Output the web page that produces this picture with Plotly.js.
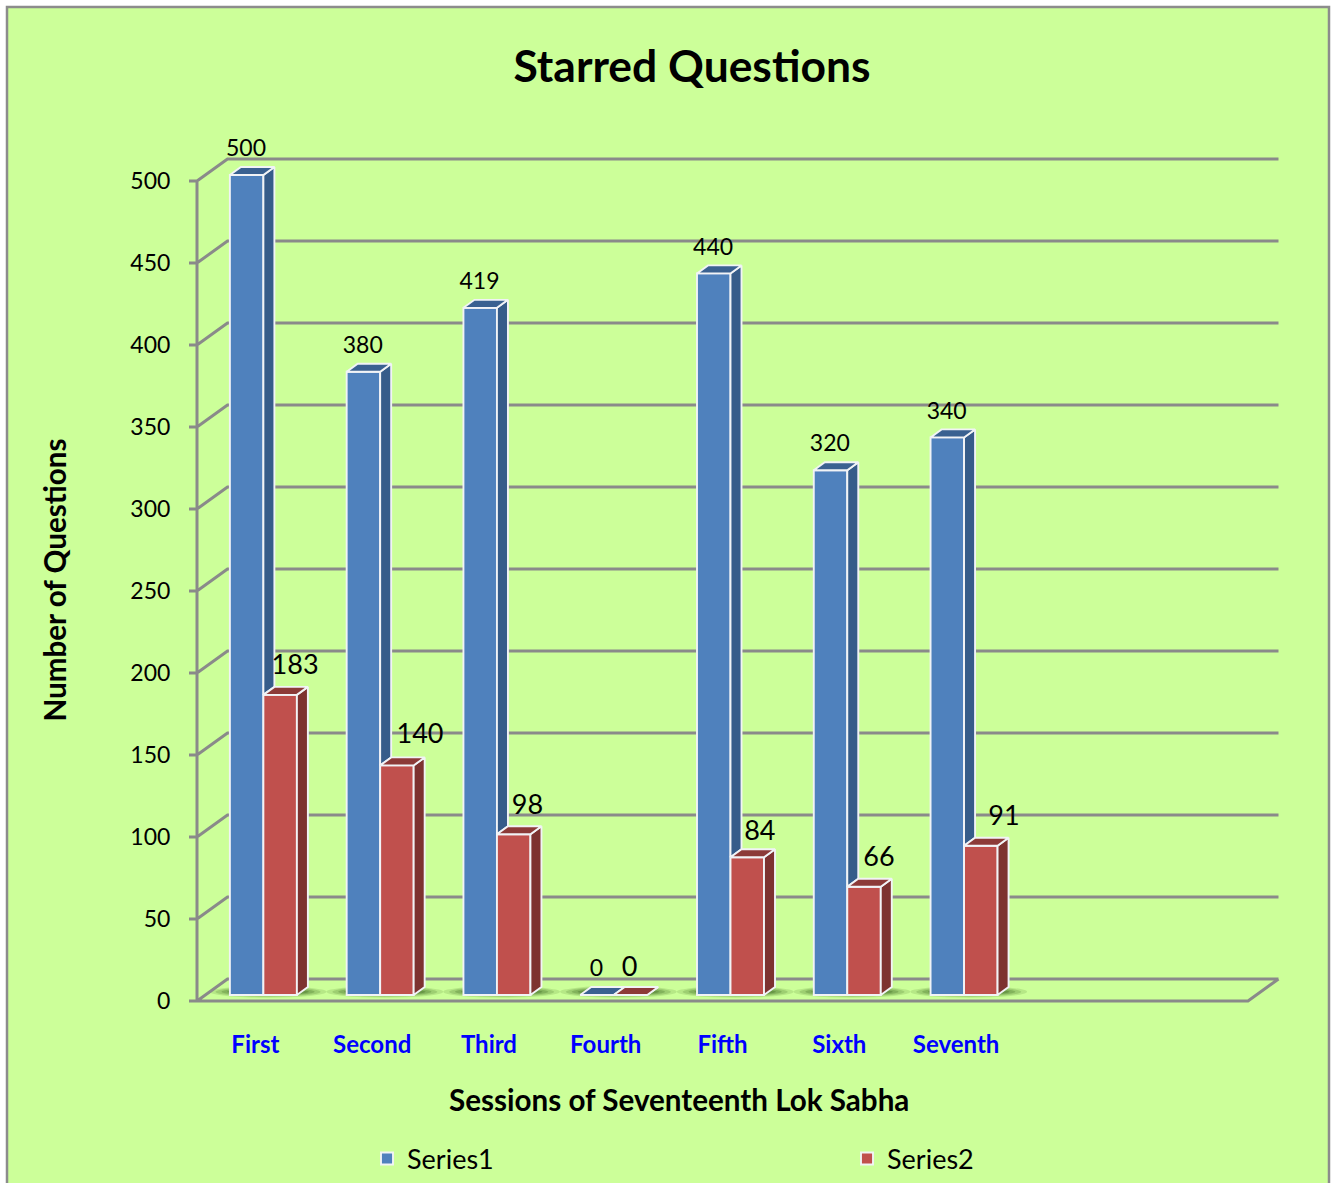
<!DOCTYPE html>
<html><head><meta charset="utf-8">
<script src="https://cdn.plot.ly/plotly-3.0.1.min.js"></script>
<style>html,body{margin:0;padding:0;background:#fff}#c{width:1336px;height:1183px}</style>
</head><body><div id="c"></div>
<script>
const categories = ["First","Second","Third","Fourth","Fifth","Sixth","Seventh"];
const series1 = [500,380,419,0,440,320,340];
const series2 = [183,140,98,0,84,66,91];
const yTicks = [0,50,100,150,200,250,300,350,400,450,500];
// hand placement of the second series' labels, relative to the category, in axis units
const s2LabelDx = [0.34,0.41,0.33,0.205,0.32,0.34,0.41];
const s2LabelDy = [17,17.5,16.5,16,14.5,16.5,16.5];

const W=1336,H=1183,L=185,R=1282,T=140,B=1020;
const X0=197,Y0=1001;
const pxX=1051/9, pxY=820/500;
const xMin=-0.5, xEnd=8.5;
const wallDx=30.5/pxX, wallDy=22/pxY;
const barW=33.5/pxX, shift=8/pxX, base=6/pxY, depX=11/pxX, depY=8/pxY;
const idx=categories.map((_,i)=>i);
const FONT='Lato, Carlito, Calibri, sans-serif';
const GRID='#8a8a8a', EDGE='#f1f3f6';

function gridPath(){
  let p='';
  yTicks.forEach(v=>{
    p+=`M${xMin-8/pxX},${v}L${xMin},${v}L${xMin+wallDx},${v+wallDy}L${xEnd+wallDx},${v+wallDy}`;
  });
  p+=`M${xMin},0L${xMin},500M${xMin},0L${xEnd},0L${xEnd+wallDx},${wallDy}`;
  return p;
}
// sideFrom: value at which the visible part of a side face begins (hidden below by the neighbour bar)
function faces(vals,x0,col,kind,sideFrom){
  const x=[],y=[];
  vals.forEach((v,i)=>{
    const l=i+x0, r=l+barW, t=v+base, b=base+(sideFrom?sideFrom[i]:0);
    if(kind==='side'){ x.push(r,r+depX,r+depX,r,r,null); y.push(b,b+depY,t+depY,t,b,null); }
    else { x.push(l,l+depX,r+depX,r,l,null); y.push(t,t+depY,t+depY,t,t,null); }
  });
  return {type:'scatter',mode:'lines',x,y,fill:'toself',fillcolor:col,line:{color:EDGE,width:1.9},hoverinfo:'skip',showlegend:false,cliponaxis:false};
}
function bars(name,vals,off,col,legend){
  return {type:'bar',name,legend,x:idx,y:vals,base:vals.map(()=>base),width:barW,offset:off,
    marker:{color:col,line:{color:EDGE,width:1.9}},cliponaxis:false,hoverinfo:'x+y'};
}
function labels(xs,ys,txt,size){
  return {type:'scatter',mode:'text',x:xs,y:ys,text:txt.map(String),textposition:'middle center',
    textfont:{family:FONT,size,color:'#000'},hoverinfo:'skip',showlegend:false,cliponaxis:false};
}
const shapes=[{type:'rect',xref:'paper',yref:'paper',layer:'below',
  x0:(7-L)/(R-L),x1:(1329-L)/(R-L),y0:(B-1200)/(B-T),y1:(B-7)/(B-T),
  fillcolor:'#CCFF99',line:{color:'#8c8c8c',width:2.5}}];
idx.forEach(i=>{
  [[.50,3.6,.14],[.45,3.0,.18],[.40,2.4,.24],[.35,1.8,.3]].forEach(s=>{
    const cx=i+shift+0.04;
    shapes.push({type:'circle',xref:'x',yref:'y',layer:'below',x0:cx-s[0],x1:cx+s[0],
      y0:5.6-s[1],y1:5.6+s[1],fillcolor:'#2f5a16',opacity:s[2],line:{width:0}});
  });
});
shapes.push({type:'path',xref:'x',yref:'y',layer:'below',path:gridPath(),line:{color:GRID,width:3}});
const traces=[
  faces(series1,shift-barW,'#365C8A','side',series2),
  faces(series1,shift-barW,'#3A6191','top'),
  bars('Series1',series1,shift-barW,'#4F81BD','legend'),
  faces(series2,shift,'#7D3230','side'),
  faces(series2,shift,'#8C3A38','top'),
  bars('Series2',series2,shift,'#C0504D','legend2'),
  labels(idx.map(i=>i-9.4/pxX),series1.map(v=>v+base+24.5/pxY),series1,23),
  labels(idx.map(i=>i+s2LabelDx[i]),series2.map((v,i)=>v+base+s2LabelDy[i]),series2,27)
];
const legendBase={orientation:'h',xref:'container',yref:'container',xanchor:'left',yanchor:'middle',y:1-1159/H,
  bgcolor:'rgba(0,0,0,0)',font:{family:FONT,size:27,color:'#000'}};
const layout={
  width:W,height:H,margin:{l:L,r:W-R,t:T,b:H-B,pad:0,autoexpand:false},
  paper_bgcolor:'#fff',plot_bgcolor:'rgba(0,0,0,0)',barmode:'overlay',showlegend:true,
  title:{text:'<b>Starred Questions</b>',x:692/W,xanchor:'center',y:1-66/H,yanchor:'middle',xref:'container',yref:'container',
    font:{family:FONT,size:44.4,color:'#000'}},
  xaxis:{range:[xMin-(X0-L)/pxX,xMin+(R-X0)/pxX],tickmode:'array',tickvals:idx,ticktext:categories,showgrid:false,zeroline:false,showline:false,
    ticks:'outside',ticklen:3,tickcolor:'rgba(0,0,0,0)',tickfont:{family:FONT,size:24,color:'#0000FF',weight:700}},
  yaxis:{range:[-(B-Y0)/pxY,(Y0-T)/pxY],tickmode:'array',tickvals:yTicks,showgrid:false,zeroline:false,showline:false,
    ticks:'outside',ticklen:9,tickcolor:'rgba(0,0,0,0)',tickfont:{family:FONT,size:23,color:'#000'},
    title:{text:'<b>Number of Questions</b>',standoff:55,font:{family:FONT,size:29.6,color:'#000'}}},
  annotations:[{text:'<b>Sessions of Seventeenth Lok Sabha</b>',xref:'paper',yref:'paper',
    x:(679-L)/(R-L),y:(B-1099)/(B-T),xanchor:'center',yanchor:'middle',showarrow:false,
    font:{family:FONT,size:29.6,color:'#000'}}],
  legend:Object.assign({x:367/W},legendBase),
  legend2:Object.assign({x:847/W},legendBase),
  shapes
};
Plotly.newPlot('c',traces,layout,{displayModeBar:false});
</script></body></html>
